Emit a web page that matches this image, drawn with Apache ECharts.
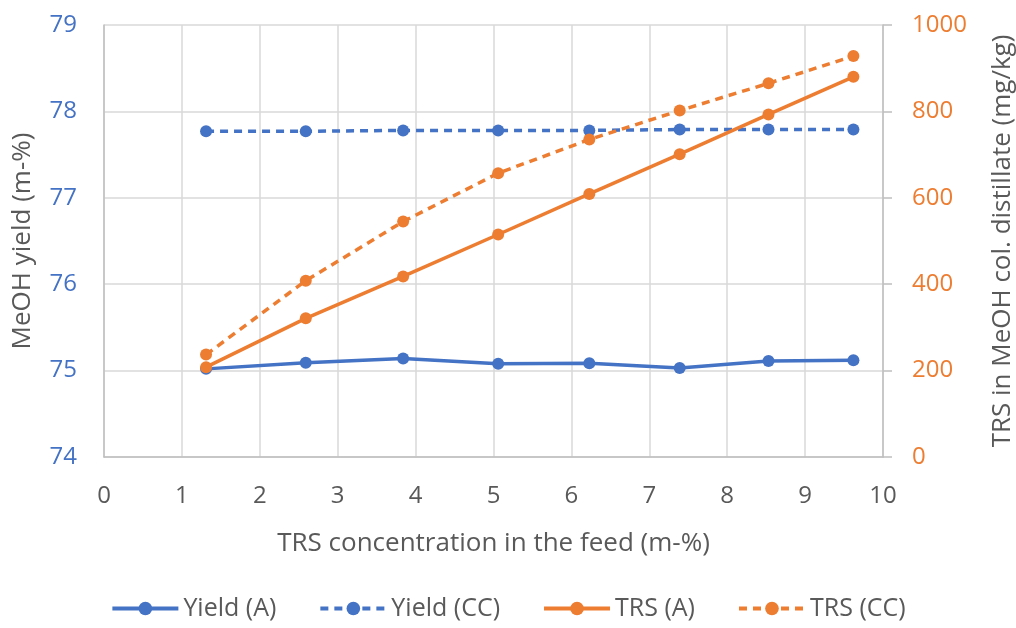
<!DOCTYPE html>
<html><head><meta charset="utf-8">
<script src="https://cdn.jsdelivr.net/npm/echarts@6/dist/echarts.min.js"></script>
<style>html,body{margin:0;padding:0;background:#fff}#c{width:1016px;height:628px}</style>
</head><body><div id="c"></div>
<script>
const xValues = [1.31, 2.59, 3.84, 5.06, 6.23, 7.39, 8.53, 9.62];
const yieldA = [75.02, 75.09, 75.14, 75.08, 75.085, 75.03, 75.11, 75.12];
const yieldCC = [77.77, 77.77, 77.78, 77.78, 77.78, 77.79, 77.79, 77.79];
const trsA = [208, 321, 418, 515, 609, 701, 793, 880];
const trsCC = [237, 408, 545, 657, 735, 802, 865, 928];
const seriesNames = ['Yield (A)', 'Yield (CC)', 'TRS (A)', 'TRS (CC)'];

const BLUE = '#4472C4', ORANGE = '#ED7D31', GRAY = '#595959', GRID = '#d9d9d9', AXIS = '#bfbfbf';
const FONT = 'Open Sans';
const pair = (ys) => xValues.map((x, i) => [x, ys[i]]);
function mk(name, ys, color, dashed, yIdx) {
  return {
    name, type: 'line', yAxisIndex: yIdx, data: pair(ys),
    symbol: 'circle', symbolSize: 12, showSymbol: true,
    lineStyle: { color, width: 3.5, type: dashed ? [8, 6] : 'solid' },
    itemStyle: { color }, z: 3
  };
}
const chart = echarts.init(document.getElementById('c'), null, { renderer: 'canvas' });
chart.setOption({
  animation: false,
  grid: { left: 104, right: 133, top: 25, bottom: 171, containLabel: false, outerBoundsMode: 'none' },
  legend: {
    bottom: 2, left: 'center', itemWidth: 66, itemHeight: 17, itemGap: 42,
    lineStyle: { width: 4 },
    textStyle: { fontFamily: FONT, fontSize: 25, color: GRAY },
    data: seriesNames
  },
  xAxis: {
    type: 'value', min: 0, max: 10, interval: 1,
    name: 'TRS concentration in the feed (m-%)', nameLocation: 'middle', nameGap: 74,
    nameTextStyle: { fontFamily: FONT, fontSize: 26, color: GRAY },
    axisLine: { show: true, lineStyle: { color: AXIS, width: 1.5 } },
    axisTick: { show: false },
    axisLabel: { margin: 27, fontFamily: FONT, fontSize: 24, color: GRAY },
    splitLine: { show: true, lineStyle: { color: GRID, width: 1.5 } }
  },
  yAxis: [{
    type: 'value', min: 74, max: 79, interval: 1, position: 'left',
    name: 'MeOH yield (m-%)', nameLocation: 'middle', nameGap: 68, nameRotate: 90,
    nameTextStyle: { fontFamily: FONT, fontSize: 26, color: GRAY },
    axisLine: { show: true, lineStyle: { color: AXIS, width: 1.5 } }, axisTick: { show: false },
    axisLabel: { margin: 27, fontFamily: FONT, fontSize: 24, color: BLUE },
    splitLine: { show: true, lineStyle: { color: GRID, width: 1.5 } }
  }, {
    type: 'value', min: 0, max: 1000, interval: 200, position: 'right',
    name: 'TRS in MeOH col. distillate (mg/kg)', nameLocation: 'middle', nameGap: 107, nameRotate: 90,
    nameTextStyle: { fontFamily: FONT, fontSize: 26, color: GRAY },
    axisLine: { show: true, lineStyle: { color: AXIS, width: 1.5 } },
    axisTick: { show: true, inside: false, length: 9, lineStyle: { color: AXIS, width: 1.5 } },
    axisLabel: { margin: 29, fontFamily: FONT, fontSize: 24, color: ORANGE, formatter: (v) => String(v) },
    splitLine: { show: false }
  }],
  series: [
    mk(seriesNames[0], yieldA, BLUE, false, 0),
    mk(seriesNames[1], yieldCC, BLUE, true, 0),
    mk(seriesNames[2], trsA, ORANGE, false, 1),
    mk(seriesNames[3], trsCC, ORANGE, true, 1)
  ]
});
</script></body></html>
